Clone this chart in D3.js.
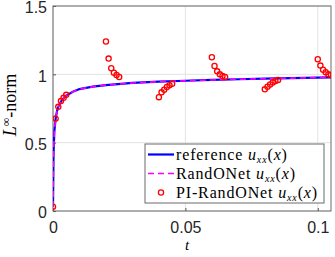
<!DOCTYPE html>
<html>
<head>
<meta charset="utf-8">
<script src="https://cdn.jsdelivr.net/npm/d3@7"></script>
<style>
  body { margin: 0; background: #fff; }
  svg { display: block; }
  .tick text { font-family: "Liberation Sans", Arial, sans-serif; font-size: 16px; fill: #262626; }
  .grid-line { stroke: #e3e3e3; stroke-width: 1; }
  .leg { font-family: "Liberation Serif", "Times New Roman", serif; font-size: 16px; letter-spacing: 0.85px; fill: #000; }
</style>
</head>
<body>
<svg id="chart"></svg>
<script>
// reference solution u_xx(x), L-inf norm over time
const tRef = [0, 0.0002, 0.0005, 0.001, 0.0015, 0.002, 0.003, 0.004, 0.005, 0.0075, 0.01, 0.015, 0.02, 0.03, 0.04, 0.05, 0.06, 0.07, 0.08, 0.09, 0.1, 0.105];
const uRef = [0.03, 0.42, 0.58, 0.676, 0.73, 0.762, 0.80, 0.826, 0.845, 0.873, 0.892, 0.91, 0.921, 0.937, 0.946, 0.953, 0.959, 0.964, 0.968, 0.972, 0.976, 0.978];
// RandONet prediction (lies on top of the reference)
const uRandONet = [0.03, 0.42, 0.58, 0.676, 0.73, 0.762, 0.80, 0.826, 0.845, 0.873, 0.892, 0.91, 0.921, 0.937, 0.946, 0.953, 0.959, 0.964, 0.968, 0.972, 0.976, 0.978];
// PI-RandONet prediction (markers)
const tPI = [0, 0.001, 0.002, 0.003, 0.004, 0.005,
             0.02, 0.021, 0.022, 0.023, 0.024, 0.025,
             0.04, 0.041, 0.042, 0.043, 0.044, 0.045,
             0.06, 0.061, 0.062, 0.063, 0.064, 0.065,
             0.08, 0.081, 0.082, 0.083, 0.084, 0.085,
             0.1, 0.101, 0.102, 0.103, 0.104, 0.105];
const uPI = [0.032, 0.676, 0.762, 0.804, 0.828, 0.85,
             1.24, 1.115, 1.044, 1.012, 0.995, 0.98,
             0.833, 0.868, 0.887, 0.907, 0.921, 0.931,
             1.125, 1.061, 1.022, 1.0, 0.988, 0.98,
             0.89, 0.909, 0.926, 0.941, 0.951, 0.958,
             1.11, 1.064, 1.034, 1.015, 1.0, 0.995];
const xTicks = [0, 0.05, 0.1];
const yTicks = [0, 0.5, 1, 1.5];
const legendLabels = ["reference", "RandONet", "PI-RandONet"];

const width = 335, height = 257;
const margin = { left: 53, top: 6, right: 4, bottom: 46 };
const xLen = width - margin.left - margin.right;
const yLen = height - margin.top - margin.bottom;

const svg = d3.select("#chart").attr("width", width).attr("height", height);
svg.append("rect").attr("width", width).attr("height", height).attr("fill", "#fff");

const scaleX = d3.scaleLinear().domain([0, 0.105]).range([0, xLen]);
const scaleY = d3.scaleLinear().domain([0, 1.5]).range([yLen, 0]);

const g = svg.append("g").attr("transform", `translate(${margin.left}, ${margin.top})`);

// сетка
g.selectAll(".gx").data(xTicks).enter().append("line")
    .classed("grid-line", true)
    .attr("x1", d => scaleX(d)).attr("x2", d => scaleX(d))
    .attr("y1", 0).attr("y2", yLen);
g.selectAll(".gy").data(yTicks).enter().append("line")
    .classed("grid-line", true)
    .attr("x1", 0).attr("x2", xLen)
    .attr("y1", d => scaleY(d)).attr("y2", d => scaleY(d));

// оси
const axisX = d3.axisBottom(scaleX).tickValues(xTicks).tickFormat(d3.format("")).tickSizeInner(-3).tickSizeOuter(0).tickPadding(11);
const axisY = d3.axisLeft(scaleY).tickValues(yTicks).tickFormat(d3.format("")).tickSizeInner(-3).tickSizeOuter(0).tickPadding(6);
g.append("g").attr("class", "x-axis").attr("transform", `translate(0, ${yLen})`).call(axisX);
g.append("g").attr("class", "y-axis").call(axisY);
g.selectAll(".domain").remove();
g.selectAll(".tick line").attr("stroke", "#555");
g.selectAll(".y-axis .tick text").attr("dy", "0.42em");

// top/right ticks and box
g.append("rect").attr("x", 0).attr("y", 0).attr("width", xLen).attr("height", yLen)
    .attr("fill", "none").attr("stroke", "#6a6a6a").attr("stroke-width", 1);

const clip = svg.append("defs").append("clipPath").attr("id", "clip");
clip.append("rect").attr("x", 0).attr("y", 0).attr("width", xLen).attr("height", yLen);
const plot = g.append("g").attr("clip-path", "url(#clip)");

const refData = tRef.map((t, i) => ({ t: t, u: uRef[i] }));
const rndData = tRef.map((t, i) => ({ t: t, u: uRandONet[i] }));
const piData = tPI.map((t, i) => ({ t: t, u: uPI[i] }));

const line = d3.line().x(d => scaleX(d.t)).y(d => scaleY(d.u));
plot.append("path").datum(refData).attr("d", line)
    .attr("fill", "none").attr("stroke", "#0000ff").attr("stroke-width", 2.2);
plot.append("path").datum(rndData).attr("d", line)
    .attr("fill", "none").attr("stroke", "#ff00ff").attr("stroke-width", 1.6)
    .attr("stroke-dasharray", "6,4");
plot.selectAll(".dot").data(piData).enter().append("circle")
    .attr("cx", d => scaleX(d.t)).attr("cy", d => scaleY(d.u)).attr("r", 2.6)
    .attr("fill", "none").attr("stroke", "#ff0000").attr("stroke-width", 1.3);

// подписи осей
svg.append("text")
    .attr("x", 187).attr("y", 250)
    .attr("text-anchor", "middle")
    .style("font-family", "Liberation Serif, serif").style("font-style", "italic").style("font-size", "15px")
    .text("t");
const yl = svg.append("text")
    .attr("transform", `translate(16, 105) rotate(-90)`)
    .attr("text-anchor", "middle")
    .style("font-family", "Liberation Serif, serif").style("font-size", "18px");
yl.append("tspan").style("font-style", "italic").text("L");
yl.append("tspan").attr("dy", -6).style("font-size", "12px").text("∞");
yl.append("tspan").attr("dy", 6).text("-norm");

// легенда
const lg = svg.append("g").attr("transform", "translate(145, 144)");
lg.append("rect").attr("width", 179).attr("height", 59)
    .attr("fill", "#fff").attr("stroke", "#6a6a6a").attr("stroke-width", 1);
const rowY = [10.5, 29.5, 48.5];
lg.append("line").attr("x1", 3).attr("x2", 29).attr("y1", rowY[0]).attr("y2", rowY[0])
    .attr("stroke", "#0000ff").attr("stroke-width", 2.2);
lg.append("line").attr("x1", 3).attr("x2", 29).attr("y1", rowY[1]).attr("y2", rowY[1])
    .attr("stroke", "#ff00ff").attr("stroke-width", 1.6).attr("stroke-dasharray", "6,4");
lg.append("circle").attr("cx", 16).attr("cy", rowY[2]).attr("r", 2.6)
    .attr("fill", "none").attr("stroke", "#ff0000").attr("stroke-width", 1.3);
legendLabels.forEach((name, i) => {
    const tx = lg.append("text").attr("class", "leg").attr("x", 31).attr("y", rowY[i] + 5);
    tx.append("tspan").text(name + " ");
    tx.append("tspan").style("font-style", "italic").text("u");
    tx.append("tspan").attr("dy", 3).style("font-style", "italic").style("font-size", "10px").text("xx");
    tx.append("tspan").attr("dy", -3).text("(");
    tx.append("tspan").style("font-style", "italic").text("x");
    tx.append("tspan").text(")");
});
</script>
</body>
</html>
